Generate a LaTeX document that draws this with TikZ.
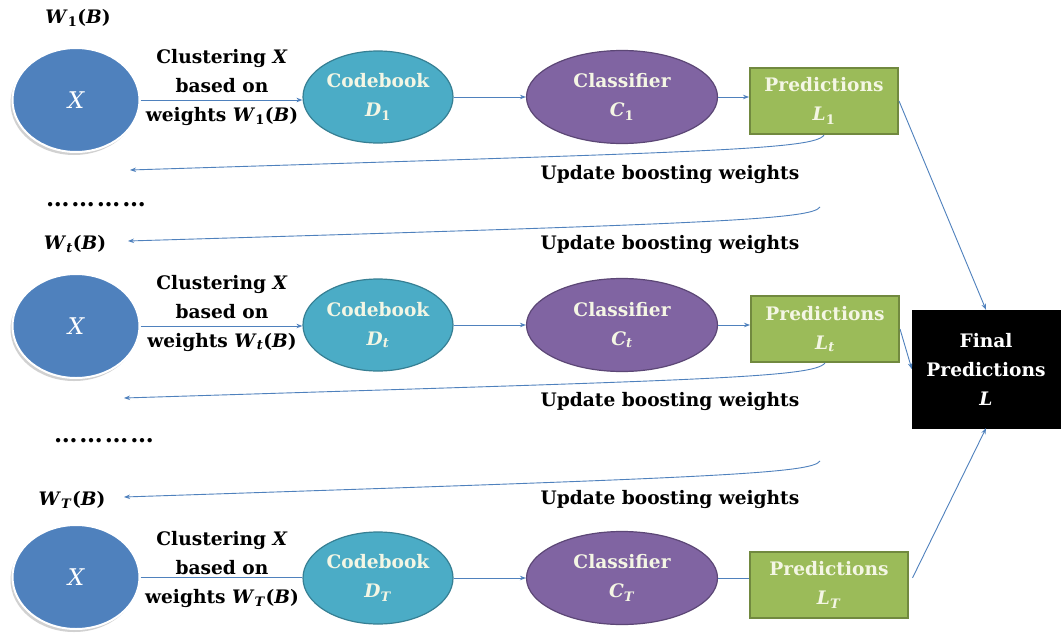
\documentclass[tikz,border=0pt]{standalone}
\usepackage{fontspec}
\setmainfont{DejaVu Serif}
\usetikzlibrary{shapes.geometric,arrows.meta,shadows}

\definecolor{xblue}{HTML}{4F81BD}
\definecolor{cbteal}{HTML}{4BACC6}
\definecolor{cbedge}{HTML}{367F93}
\definecolor{clpurple}{HTML}{8064A2}
\definecolor{cledge}{HTML}{5C4776}
\definecolor{prgreen}{HTML}{9BBB59}
\definecolor{predge}{HTML}{71893F}
\definecolor{linkblue}{HTML}{4F81BD}
\definecolor{cream}{HTML}{F4F6E4}

\newcommand{\wsub}[1]{\textit{W}\textsubscript{#1}(\textit{B})}

\tikzset{
  big/.style={font=\fontsize{18.6}{29}\selectfont\bfseries},
  datanode/.style={ellipse, fill=xblue, draw=white, line width=2pt,
    minimum width=127pt, minimum height=104pt, inner sep=0pt,
    drop shadow={shadow xshift=-2pt, shadow yshift=-3pt, fill=gray!45, opacity=0.8},
    text=white, font=\fontsize{23}{30}\selectfont\itshape},
  codebook/.style={ellipse, fill=cbteal, draw=cbedge, line width=1.2pt,
    minimum width=150pt, minimum height=92pt, inner sep=0pt, align=center,
    text=cream, big},
  classifier/.style={ellipse, fill=clpurple, draw=cledge, line width=1.2pt,
    minimum width=191pt, minimum height=93pt, inner sep=0pt, align=center,
    text=cream, big},
  predbox/.style={rectangle, fill=prgreen, draw=predge, line width=2pt,
    minimum width=148pt, minimum height=66pt, inner sep=0pt, align=center,
    text=cream, big},
  finalbox/.style={rectangle, fill=black, draw=black,
    minimum width=148pt, minimum height=118pt, inner sep=0pt, align=center,
    text=white, big},
  lbl/.style={align=center, big, inner sep=0pt},
  dotrow/.style={inner sep=0pt, font=\fontsize{23.5}{29}\selectfont\bfseries},
  link/.style={draw=linkblue, line width=0.9pt},
  tip/.style={-{Stealth[length=6pt,width=4.5pt]}},
}

\begin{document}
\begin{tikzpicture}[x=1pt,y=-1pt]
  \useasboundingbox (0,0) rectangle (1064,642);
  \fill[white] (0,0) rectangle (1064,642);

  % ---- first round ----
  \node[lbl] (w1) at (78,18) {\wsub{1}};
  \node[datanode] (x1) at (76,100) {X};
  \node[lbl] (cl1) at (222,87) {Clustering \textit{X}\\based on\\weights \wsub{1}};
  \node[codebook] (d1) at (378,97) {Codebook\\\textit{D}\textsubscript{1}};
  \node[classifier] (c1) at (622,97) {Classifier\\\textit{C}\textsubscript{1}};
  \node[predbox] (p1) at (824,101) {Predictions\\\textit{L}\textsubscript{1}};

  % ---- round t ----
  \node[lbl] (wt) at (75,244) {\wsub{\textit{t}}};
  \node[datanode] (xt) at (76,326) {X};
  \node[lbl] (clt) at (222,313) {Clustering \textit{X}\\based on\\weights \wsub{\textit{t}}};
  \node[codebook] (dt) at (378,325) {Codebook\\\textit{D}\textsubscript{\textit{t}}};
  \node[classifier] (ct) at (622,325) {Classifier\\\textit{C}\textsubscript{\textit{t}}};
  \node[predbox] (pt) at (825,329) {Predictions\\\textit{L}\textsubscript{\textit{t}}};

  % ---- last round T ----
  \node[lbl] (wT) at (72,500) {\wsub{\textit{T}}};
  \node[datanode] (xT) at (76,577) {X};
  \node[lbl] (clT) at (222,569) {Clustering \textit{X}\\based on\\weights \wsub{\textit{T}}};
  \node[codebook] (dT) at (378,578) {Codebook\\\textit{D}\textsubscript{\textit{T}}};
  \node[classifier] (cT) at (622,578) {Classifier\\\textit{C}\textsubscript{\textit{T}}};
  \node[predbox, minimum width=158pt] (pT) at (829,585) {Predictions\\\textit{L}\textsubscript{\textit{T}}};

  % ---- combined output ----
  \node[finalbox] (fin) at (986,369) {Final\\Predictions\\\textit{L}};

  % elided rounds
  \node[dotrow] (dots1) at (96,205) {…\kern2pt…\kern2pt…\kern2pt…};
  \node[dotrow] (dots2) at (104,441) {…\kern2pt…\kern2pt…\kern2pt…};

  % pipeline arrows inside each round
  \draw[link,tip] (x1.east) -- (x1.east -| d1.west);
  \draw[link,tip] (d1.east) -- (d1.east -| c1.west);
  \draw[link,tip] (c1.east) -- (c1.east -| p1.west);

  \draw[link,tip] (xt.east) -- (xt.east -| dt.west);
  \draw[link,tip] (dt.east) -- (dt.east -| ct.west);
  \draw[link,tip] (ct.east) -- (ct.east -| pt.west);

  \draw[link] (xT.east) -- (xT.east -| dT.west);
  \draw[link,tip] (dT.east) -- (dT.east -| cT.west);
  \draw[link] (cT.east) -- (cT.east -| pT.west);

  % boosting weight updates
  \coordinate (u1a) at (130,170);
  \coordinate (u2s) at (820,207);
  \coordinate (u2a) at (128,241);
  \coordinate (u3a) at (124,398);
  \coordinate (u4s) at (820,461);
  \coordinate (u4a) at (124,497);

  \draw[link,tip] (p1.south) .. controls (815,150) and (700,152) .. (u1a);
  \draw[link,tip] (u2s) .. controls (812,220) and (700,224) .. (u2a);
  \draw[link,tip] (pt.south) .. controls (813,378) and (700,380) .. (u3a);
  \draw[link,tip] (u4s) .. controls (812,474) and (700,478) .. (u4a);

  \node[lbl] (up1) at (670,174) {Update boosting weights};
  \node[lbl] (up2) at (670,244) {Update boosting weights};
  \node[lbl] (up3) at (670,401) {Update boosting weights};
  \node[lbl] (up4) at (670,499) {Update boosting weights};

  % predictions feeding the final vote
  \draw[link,tip] (p1.east) -- (fin.north);
  \draw[link,tip] (pt.east) -- (fin.west);
  \draw[link,tip,shorten <=8pt] (pT.east) -- (fin.south);
\end{tikzpicture}
\end{document}
